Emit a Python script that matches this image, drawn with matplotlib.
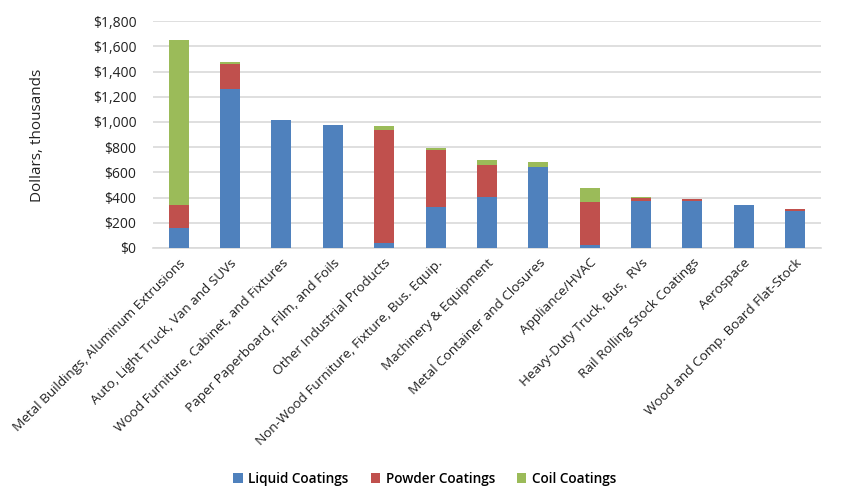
import numpy as np
import matplotlib
matplotlib.use('Agg')
import matplotlib.pyplot as plt
from matplotlib.ticker import FuncFormatter

plt.rcParams['font.family'] = ['Open Sans', 'DejaVu Sans']

categories = ['Metal Buildings, Aluminum Extrusions',
              'Auto, Light Truck, Van and SUVs',
              'Wood Furniture, Cabinet, and Fixtures',
              'Paper Paperboard, Film, and Foils',
              'Other Industrial Products',
              'Non-Wood Furniture, Fixture, Bus. Equip.',
              'Machinery & Equipment',
              'Metal Container and Closures',
              'Appliance/HVAC',
              'Heavy-Duty Truck, Bus,  RVs',
              'Rail Rolling Stock Coatings',
              'Aerospace',
              'Wood and Comp. Board Flat-Stock']
liquid = [160, 1258, 1012, 972, 43, 328, 406, 642, 25, 375, 373, 342, 294]
powder = [180, 205, 0, 0, 897, 452, 254, 0, 337, 22, 14, 0, 16]
coil = [1312, 12, 0, 0, 27, 12, 40, 44, 116, 10, 0, 0, 0]

c_liquid = '#4F81BD'
c_powder = '#C0504D'
c_coil = '#9BBB59'

fig = plt.figure(figsize=(8.41, 5.03), dpi=100)
ax = fig.add_axes([0.182, 0.507, 0.794, 0.451])

x = np.arange(len(categories))
w = 0.39
liquid = np.array(liquid)
powder = np.array(powder)
coil = np.array(coil)
ax.bar(x, liquid, w, color=c_liquid, label='Liquid Coatings', zorder=3)
ax.bar(x, powder, w, bottom=liquid, color=c_powder, label='Powder Coatings', zorder=3)
ax.bar(x, coil, w, bottom=liquid + powder, color=c_coil, label='Coil Coatings', zorder=3)

ax.set_xlim(-0.5, len(categories) - 0.5)
ax.set_ylim(0, 1800)
ax.set_yticks(np.arange(0, 1801, 200))
ax.yaxis.set_major_formatter(FuncFormatter(lambda v, p: '${:,.0f}'.format(v)))
ax.grid(axis='y', color='#D9D9D9', linewidth=1.2, zorder=0)
for s in ['top', 'right', 'left']:
    ax.spines[s].set_visible(False)
ax.spines['bottom'].set_color('#D9D9D9')
ax.spines['bottom'].set_linewidth(1.2)
ax.tick_params(length=0, labelsize=10, colors='#222222')
ax.tick_params(axis='y', pad=12)
ax.tick_params(axis='x', labelsize=9.7, pad=6)

ax.set_xticks(x)
ax.set_xticklabels(categories, rotation=45, ha='right', rotation_mode='anchor')

fig.text(0.044, 0.73, 'Dollars, thousands', rotation=90, ha='center', va='center',
         fontsize=11, color='#222222')

fig.legend(loc='center', bbox_to_anchor=(0.505, 0.048), ncol=3, frameon=False,
           handlelength=0.7, handleheight=0.7, handletextpad=0.4, columnspacing=1.6,
           prop={'size': 9.8, 'weight': 'semibold'})

fig.savefig('out.png', dpi=100)
